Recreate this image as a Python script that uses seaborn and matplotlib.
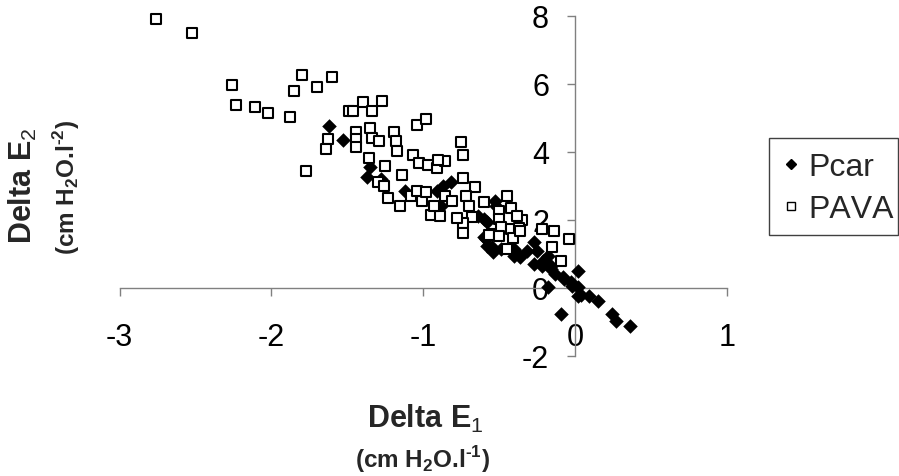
import matplotlib
matplotlib.use("Agg")
import matplotlib.pyplot as plt
from matplotlib.lines import Line2D
from matplotlib.patches import Rectangle
import pandas as pd
import seaborn as sns

# Change in elastance E1 vs change in elastance E2 for both ventilation modes
pcar_e1 = [-1.62, -1.53, -1.35, -1.37, -1.28, -1.12, -0.88, -0.87, -0.82, -0.91,
           -0.64, -0.60, -0.53, -0.52, -0.58, -0.60, -0.58, -0.54, -0.59, -0.55,
           -0.49, -0.40, -0.36, -0.32, -0.40, -0.54, -0.27, -0.36, -0.25, -0.27,
           -0.21, -0.18, -0.16, -0.22, -0.16, -0.13, -0.08, -0.07, -0.03, 0.02,
           -0.02, 0.02, -0.18, 0.04, 0.02, 0.09, 0.15, 0.24, 0.27, 0.36, -0.09]
pcar_e2 = [4.76, 4.35, 3.54, 3.25, 3.20, 2.84, 2.41, 3.00, 3.10, 2.85,
           2.12, 2.02, 2.56, 2.41, 1.92, 1.48, 1.24, 1.04, 1.43, 1.20,
           1.14, 1.14, 0.94, 1.09, 0.94, 1.09, 1.33, 0.89, 1.09, 0.70,
           0.79, 0.94, 0.65, 0.65, 0.55, 0.40, 0.31, 0.26, 0.16, 0.50,
           0.06, 0.01, 0.01, -0.20, -0.24, -0.24, -0.38, -0.77, -0.97, -1.12, -0.77]

pava_e1 = [-2.76, -2.52, -2.26, -2.23, -2.11, -2.02, -1.88, -1.80, -1.85, -1.70,
           -1.60, -1.63, -1.64, -1.77, -1.49, -1.46, -1.40, -1.34, -1.27, -1.44,
           -1.44, -1.44, -1.35, -1.34, -1.29, -1.19, -1.18, -1.17, -1.36, -1.25,
           -1.14, -1.07, -1.04, -0.98, -1.03, -0.97, -1.30, -1.26, -1.23, -1.15,
           -1.08, -1.01, -1.04, -0.98, -0.75, -0.74, -0.91, -0.86, -0.90, -0.74,
           -0.66, -0.86, -0.81, -0.72, -0.70, -0.68, -0.74, -0.74, -0.78, -0.95,
           -0.89, -0.93, -0.60, -0.55, -0.45, -0.50, -0.42, -0.50, -0.35, -0.38,
           -0.49, -0.42, -0.57, -0.50, -0.41, -0.37, -0.45, -0.36, -0.22, -0.14,
           -0.04, -0.15, -0.09]
pava_e2 = [7.91, 7.50, 5.97, 5.38, 5.32, 5.15, 5.03, 6.26, 5.79, 5.91,
           6.21, 4.38, 4.09, 3.44, 5.21, 5.21, 5.45, 5.21, 5.50, 4.59,
           4.37, 4.15, 4.69, 4.40, 4.32, 4.57, 4.32, 4.03, 3.81, 3.57,
           3.32, 3.91, 4.79, 4.96, 3.67, 3.61, 3.12, 3.00, 2.63, 2.41,
           2.69, 2.56, 2.85, 2.82, 4.28, 3.91, 3.51, 3.74, 3.76, 3.22,
           2.97, 2.69, 2.56, 2.69, 2.39, 2.09, 1.90, 1.61, 2.04, 2.15,
           2.10, 2.41, 2.51, 1.58, 2.69, 2.26, 2.33, 2.02, 1.99, 2.12,
           1.78, 1.73, 1.55, 1.51, 1.45, 1.75, 1.14, 1.68, 1.73, 1.68,
           1.43, 1.19, 0.79]

series_names = ["Pcar", "PAVA"]
x_ticks = [-3, -2, -1, 0, 1]
y_ticks = [-2, 0, 2, 4, 6, 8]

sns.set_theme(style="white")
plt.rcParams["font.family"] = ["Liberation Sans", "DejaVu Sans"]
plt.rcParams["axes.unicode_minus"] = False
plt.rcParams["text.kerning_factor"] = 16
plt.rcParams["mathtext.fontset"] = "custom"
plt.rcParams["mathtext.rm"] = "Liberation Sans"
plt.rcParams["mathtext.bf"] = "Liberation Sans:bold"

df = pd.DataFrame({
    "E1": pcar_e1 + pava_e1,
    "E2": pcar_e2 + pava_e2,
    "mode": [series_names[0]] * len(pcar_e1) + [series_names[1]] * len(pava_e1),
})

W, H = 899, 477
fig = plt.figure(figsize=(W / 100, H / 100), dpi=100)
fig.patch.set_facecolor("white")
ax = fig.add_axes([119.5 / W, 1 - 356.7 / H, 607.5 / W, 340 / H])

sns.scatterplot(data=df[df["mode"] == "Pcar"], x="E1", y="E2", marker="D",
                color="black", s=55, linewidth=0, ax=ax, legend=False,
                zorder=3, clip_on=False)
sns.scatterplot(data=df[df["mode"] == "PAVA"], x="E1", y="E2", marker="s",
                color="white", edgecolor="black", s=48, linewidth=1.5, ax=ax,
                legend=False, zorder=4, clip_on=False)

ax.set_xlim(-3, 1)
ax.set_ylim(-2, 8)
ax.set_xticks(x_ticks)
ax.set_yticks(y_ticks)
ax.set_xticklabels([str(t) for t in x_ticks])
ax.set_yticklabels([str(t) for t in y_ticks])

# axes cross at the origin
ax.spines["left"].set_position(("data", 0))
ax.spines["bottom"].set_position(("data", 0))
ax.spines["right"].set_visible(False)
ax.spines["top"].set_visible(False)
for side in ("left", "bottom"):
    ax.spines[side].set_color("#808080")
    ax.spines[side].set_linewidth(1.0)

ax.tick_params(axis="both", which="major", bottom=True, left=True,
               direction="out", length=5.8, width=1, color="#808080",
               labelsize=22, labelcolor="black")
ax.tick_params(axis="x", pad=18.8)
ax.tick_params(axis="y", pad=13)
ax.set_xlabel("")
ax.set_ylabel("")

# axis titles
hy = "\u2010"
fig.text(23 / W, 1 - 186 / H, r"Delta E$_{\mathrm{2}}$", rotation=90,
         ha="center", va="center", fontsize=22, fontweight="bold")
fig.text(67 / W, 1 - 187 / H, r"(cm H$_{\mathbf{2}}$O.l$^{\mathbf{" + hy + "2}}$)",
         rotation=90, ha="center", va="center", fontsize=17.5, fontweight="bold")
fig.text(425 / W, 1 - 419 / H, r"Delta E$_{\mathrm{1}}$",
         ha="center", va="center", fontsize=22, fontweight="bold")
fig.text(423 / W, 1 - 460 / H, r"(cm H$_{\mathbf{2}}$O.l$^{\mathbf{" + hy + "1}}$)",
         ha="center", va="center", fontsize=17.5, fontweight="bold")

# legend box
fig.patches.append(Rectangle((769 / W, 1 - 236 / H), 129 / W, 97 / H,
                             transform=fig.transFigure, fill=False,
                             edgecolor="#404040", linewidth=1.0))
handles = [
    Line2D([], [], marker="D", linestyle="none", markerfacecolor="black",
           markeredgecolor="black", markersize=5),
    Line2D([], [], marker="s", linestyle="none", markerfacecolor="white",
           markeredgecolor="black", markeredgewidth=1.0, markersize=5.2),
]
leg = ax.legend(handles, series_names, loc="upper left",
                bbox_to_anchor=(782 / W, 1 - 153 / H),
                bbox_transform=fig.transFigure, fontsize=23, frameon=False,
                borderpad=0, handlelength=0.55, handletextpad=0.27,
                labelspacing=0.37, borderaxespad=0)

fig.savefig("out.png", dpi=100, facecolor="white")
